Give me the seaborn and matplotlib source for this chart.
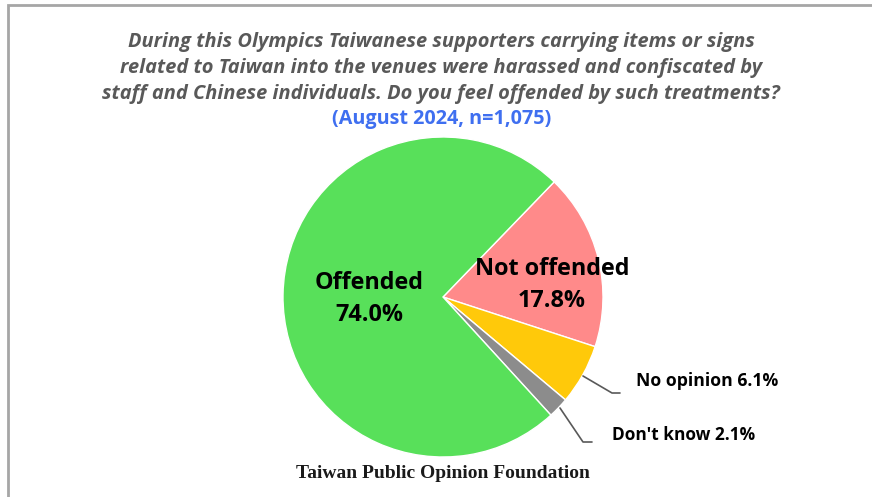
import matplotlib
matplotlib.use("Agg")
import matplotlib.pyplot as plt
import seaborn as sns
from matplotlib.patches import Rectangle

categories = ["Not offended", "No opinion", "Don't know", "Offended"]
values = [17.8, 6.1, 2.1, 74.0]
colors = ["#FF8A8A", "#FFC90A", "#8C8C8C", "#58E05A"]

title_lines = [
    "During this Olympics Taiwanese supporters carrying items or signs",
    "related to Taiwan into the venues were harassed and confiscated by",
    "staff and Chinese individuals. Do you feel offended by such treatments?",
]
subtitle = "(August 2024, n=1,075)"
source = "Taiwan Public Opinion Foundation"

sns.set_theme(style="white")
plt.rcParams["font.family"] = ["Open Sans", "DejaVu Sans"]

W, H = 872, 497
fig = plt.figure(figsize=(W / 100, H / 100), dpi=100)
fig.patch.set_facecolor("white")

# border frame (top-left visible)
fig.patches.append(Rectangle((8 / W, -0.1), 1.2, (1 - 5 / H) + 0.1, transform=fig.transFigure,
                             fill=False, edgecolor="#A6A6A6", linewidth=2.0))

cx, cy, r = 443, 297, 160
ax = fig.add_axes([(cx - r) / W, (H - cy - r) / H, 2 * r / W, 2 * r / H])
wedges, _ = ax.pie(values, colors=colors, startangle=46, counterclock=False,
                   radius=1.0, wedgeprops=dict(edgecolor="white", linewidth=1.0))
ax.set_xlim(-1, 1)
ax.set_ylim(-1, 1)
ax.set_aspect("equal")
ax.axis("off")

def fx(px):
    return px / W

def fy(py):
    return 1 - py / H

# title
for i, line in enumerate(title_lines):
    fig.text(fx(441), fy(42 + 26 * i), line, ha="center", va="center", fontsize=14.4,
             fontweight="bold", fontstyle="italic", color="#595959")
fig.text(fx(442), fy(119), subtitle, ha="center", va="center", fontsize=14.2,
         fontweight="bold", color="#3F6FF0")

# labels inside
fig.text(fx(369), fy(299), f"{categories[3]}\n{values[3]:.1f}%", ha="center", va="center",
         fontsize=16.8, fontweight="bold", color="black", linespacing=1.45)
fig.text(fx(552), fy(285), f"{categories[0]}\n{values[0]:.1f}%", ha="center", va="center",
         fontsize=16.8, fontweight="bold", color="black", linespacing=1.45)

# outside labels with leader lines
fig.add_artist(plt.Line2D([fx(583), fx(612), fx(620)], [fy(376), fy(393), fy(393)],
                          transform=fig.transFigure, color="#595959", linewidth=1.2))
fig.add_artist(plt.Line2D([fx(560), fx(583), fx(592)], [fy(408), fy(442), fy(442)],
                          transform=fig.transFigure, color="#595959", linewidth=1.2))
fig.text(fx(636), fy(381), f"{categories[1]} {values[1]:.1f}%", ha="left", va="center",
         fontsize=12.7, fontweight="bold", color="black")
fig.text(fx(612), fy(435), f"{categories[2]} {values[2]:.1f}%", ha="left", va="center",
         fontsize=12.4, fontweight="bold", color="black")

fig.text(fx(443), fy(474), source, ha="center", va="center", fontsize=14,
         fontweight="bold", color="#1a1a1a", family=["Liberation Serif", "DejaVu Serif"])

fig.savefig("out.png", dpi=100)
